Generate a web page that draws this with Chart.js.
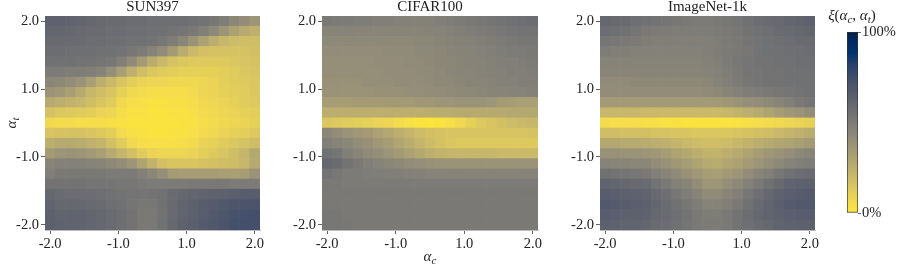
<!DOCTYPE html>
<html>
<head>
<meta charset="utf-8">
<script src="https://cdn.jsdelivr.net/npm/chart.js@4.4.0/dist/chart.umd.min.js"></script>
<style>
  html, body { margin: 0; padding: 0; background: #fff; }
  #wrap { position: relative; width: 897px; height: 266px; }
  #wrap canvas { position: absolute; left: 0; top: 0; }
</style>
</head>
<body>
<div id="wrap">
  <canvas id="c0" width="897" height="266"></canvas>
  <canvas id="c1" width="897" height="266"></canvas>
  <canvas id="c2" width="897" height="266"></canvas>
  <canvas id="cbar" width="897" height="266"></canvas>
</div>
<script>
// cell centres, same for alpha_c (columns) and alpha_t (rows)
const alphaValues = [-2.0, -1.8, -1.6, -1.4, -1.2, -1.0, -0.8, -0.6, -0.4, -0.2, 0.0,
                     0.2, 0.4, 0.6, 0.8, 1.0, 1.2, 1.4, 1.6, 1.8, 2.0];
const tickValues = [-2, -2 / 3, 2 / 3, 2];
const tickLabels = ['-2.0', '-1.0', '1.0', '2.0'];
const colorbarTicks = [0, 100];
const colorbarLabels = ['0%', '100%'];
const panelTitles = ['SUN397', 'CIFAR100', 'ImageNet-1k'];

// xi in %, rows from alpha_t = 2.0 (top) down to -2.0, columns alpha_c = -2.0 .. 2.0
const sun397 = [
  [63,63,62,61,60,59,58,58,57,57,56,56,56,56,55,54,52,49,44,41,37],
  [61,61,60,59,58,58,57,57,56,56,55,55,54,53,51,48,43,37,31,27,24],
  [59,59,58,58,57,57,56,56,55,55,54,52,49,44,38,31,25,21,19,18,18],
  [57,57,56,56,56,55,55,54,52,50,46,41,34,26,20,17,16,16,16,16,17],
  [55,55,55,54,54,53,52,48,42,34,26,20,16,14,13,13,13,13,14,15,16],
  [50,50,49,49,48,46,40,32,24,18,14,12,11,10,10,10,10,11,12,14,15],
  [44,43,41,38,32,25,20,15,11,9,8,8,7,7,7,8,9,11,12,13,14],
  [38,36,32,27,21,18,15,10,7,6,5,5,5,5,6,8,9,10,11,12,14],
  [27,25,23,21,18,15,12,7,5,4,3,3,4,4,5,7,8,9,10,12,13],
  [16,14,13,12,11,9,8,5,3,3,2,2,3,3,4,6,7,8,9,10,11],
  [7,6,6,5,5,5,4,3,2,2,2,2,2,3,3,5,6,7,8,9,10],
  [15,16,16,16,15,13,11,6,4,3,2,2,3,3,4,6,7,9,10,11,13],
  [25,27,27,26,24,22,17,12,7,5,4,4,4,5,6,9,10,12,14,16,18],
  [34,37,38,37,35,32,27,22,17,12,9,8,8,8,9,11,13,15,18,22,28],
  [45,47,47,47,46,45,43,41,37,30,23,17,15,15,15,16,17,18,19,21,27],
  [48,51,51,51,51,51,50,50,50,48,44,40,34,33,33,33,33,32,32,33,38],
  [54,54,54,54,53,53,53,52,52,51,50,50,50,50,51,51,51,51,50,50,50],
  [60,58,57,57,57,56,55,54,53,53,54,55,58,60,61,62,63,64,65,66,66],
  [62,60,60,60,59,58,56,55,53,52,52,55,59,62,64,66,67,69,70,71,71],
  [64,62,62,62,61,60,58,56,54,51,51,54,59,62,64,66,68,70,72,73,74],
  [64,63,62,62,61,60,58,56,54,51,51,55,60,63,65,67,69,71,73,74,74]
];

const cifar100 = [
  [51,50,50,49,49,48,48,47,47,47,47,48,49,50,51,52,53,54,55,56,57],
  [46,46,46,45,45,45,45,45,45,45,46,46,47,48,49,50,51,52,53,54,54],
  [43,43,43,43,43,43,43,43,43,44,44,45,46,47,47,48,49,50,51,52,52],
  [41,41,41,41,41,41,42,42,42,43,43,44,45,46,46,47,48,49,50,50,51],
  [40,40,40,40,40,41,41,41,42,42,43,44,44,45,46,46,47,48,48,49,50],
  [40,40,40,40,40,40,41,41,41,42,42,43,44,45,45,46,47,47,48,48,49],
  [39,39,39,39,40,40,40,41,41,41,42,43,43,44,45,45,46,47,47,48,48],
  [38,38,38,38,38,39,39,39,40,40,41,41,42,43,43,44,45,45,46,46,47],
  [33,33,33,34,34,34,35,35,35,36,36,37,37,38,38,38,37,34,33,32,32],
  [25,25,25,25,25,25,25,25,25,25,26,26,26,27,27,27,27,27,28,28,28],
  [14,13,12,11,10,9,8,6,4,2,1,2,4,7,10,13,15,17,19,20,21],
  [44,41,38,36,34,31,28,25,22,19,17,16,15,15,15,15,15,15,15,15,16],
  [48,46,44,41,39,36,33,29,26,22,19,16,14,13,13,13,13,13,13,13,13],
  [55,53,48,45,42,40,37,34,31,28,25,23,22,21,21,21,21,20,20,20,20],
  [60,58,54,51,48,46,44,43,41,40,39,38,38,38,38,38,38,38,38,38,38],
  [54,52,50,50,49,49,48,48,47,47,46,46,46,46,46,46,46,46,46,46,46],
  [51,51,50,50,50,50,50,50,50,50,50,50,50,50,50,50,50,50,50,50,50],
  [51,51,51,51,51,51,51,51,51,51,51,51,51,51,51,51,51,51,51,51,51],
  [51,51,51,51,51,51,51,51,51,51,51,51,51,51,51,51,51,51,51,51,51],
  [52,52,51,51,51,51,51,51,51,51,51,51,51,51,51,51,51,51,51,51,51],
  [52,52,52,51,51,51,51,51,51,51,51,51,51,51,51,51,51,51,51,51,51]
];

const imagenet1k = [
  [60,59,58,56,55,54,53,52,51,50,50,51,52,53,55,57,58,59,61,62,63],
  [57,56,55,53,51,50,50,49,49,49,49,50,51,52,54,55,56,58,59,60,61],
  [53,52,51,50,49,48,48,48,48,48,48,49,50,51,53,54,55,56,57,58,58],
  [49,48,48,47,47,47,47,47,47,47,48,49,50,51,52,54,55,55,56,56,57],
  [46,46,46,46,46,46,46,46,46,46,47,48,50,52,53,54,54,55,55,56,56],
  [45,45,45,45,45,45,45,45,45,45,46,47,49,51,53,53,54,54,55,55,55],
  [42,42,42,43,43,43,43,43,43,43,44,46,48,50,52,53,54,54,55,55,55],
  [41,41,41,41,41,41,41,41,41,41,42,43,45,47,49,50,51,52,53,54,55],
  [35,35,35,35,35,35,35,35,35,35,35,35,36,38,40,41,43,45,48,51,53],
  [21,21,21,21,20,20,20,20,20,20,20,20,21,23,25,27,30,33,36,38,41],
  [6,5,5,5,4,4,3,3,2,2,2,2,2,3,4,5,6,7,8,9,10],
  [18,18,17,17,17,16,16,15,15,14,14,14,14,15,16,17,18,20,22,24,26],
  [28,28,27,27,26,25,24,22,20,19,18,18,19,21,23,25,27,29,30,32,34],
  [39,39,38,38,37,36,33,30,28,25,23,23,25,27,30,33,36,38,40,43,45],
  [46,45,45,44,44,41,39,36,33,30,27,26,29,31,34,37,40,43,46,48,49],
  [55,54,53,52,51,48,45,42,39,36,33,32,35,37,41,45,48,52,55,57,58],
  [62,61,60,59,58,54,51,47,45,41,37,37,40,43,47,51,55,59,62,63,64],
  [66,65,64,63,62,59,56,52,49,46,42,42,45,48,52,56,60,63,65,66,67],
  [68,67,66,65,64,61,58,55,52,49,46,46,48,51,55,59,62,65,67,68,68],
  [66,65,64,64,63,60,58,56,54,51,49,49,51,54,57,60,62,64,65,66,66],
  [64,63,62,62,61,58,57,55,53,51,50,50,51,54,56,58,60,62,63,64,64]
];

// reversed cividis: 0% -> yellow, 100% -> dark blue
const cividisStops = [
  [0.000, [0, 32, 76]], [0.059, [0, 42, 102]], [0.118, [0, 52, 110]],
  [0.176, [39, 63, 108]], [0.235, [60, 74, 107]], [0.294, [76, 85, 107]],
  [0.353, [91, 95, 109]], [0.412, [104, 106, 112]], [0.471, [117, 117, 117]],
  [0.529, [131, 129, 120]], [0.588, [146, 140, 120]], [0.647, [161, 152, 118]],
  [0.706, [176, 165, 114]], [0.765, [192, 177, 109]], [0.824, [209, 191, 102]],
  [0.882, [225, 204, 92]], [0.941, [243, 219, 79]], [1.000, [253, 231, 55]]
];

function cividisR(pct) {
  const t = 1 - Math.max(0, Math.min(100, pct)) / 100;
  for (let k = 1; k < cividisStops.length; k++) {
    const [t1, c1] = cividisStops[k];
    const [t0, c0] = cividisStops[k - 1];
    if (t <= t1) {
      const f = (t - t0) / (t1 - t0);
      const c = c0.map((v, i) => Math.round(v + f * (c1[i] - v)));
      return `rgb(${c[0]},${c[1]},${c[2]})`;
    }
  }
  return 'rgb(253,231,55)';
}

Chart.defaults.font.family = "'Liberation Serif', 'Times New Roman', serif";
Chart.defaults.color = '#222';

// math text with subscripts, e.g. alpha_t
function drawMath(ctx, parts, x, y, rot) {
  const size = 15;
  const fonts = {
    i: `italic ${size}px 'Liberation Serif'`,
    r: `${size}px 'Liberation Serif'`,
    s: `italic ${Math.round(size * 0.72)}px 'Liberation Serif'`
  };
  ctx.save();
  ctx.translate(x, y);
  if (rot) ctx.rotate(rot);
  ctx.fillStyle = '#222';
  ctx.textBaseline = 'alphabetic';
  let total = 0;
  parts.forEach(p => { ctx.font = fonts[p[1]]; total += ctx.measureText(p[0]).width; });
  let cx = -total / 2;
  parts.forEach(p => {
    ctx.font = fonts[p[1]];
    ctx.fillText(p[0], cx, p[1] === 's' ? 8 : 5);
    cx += ctx.measureText(p[0]).width;
  });
  ctx.restore();
}

function mathPlugin(labels) {
  return {
    id: 'mathLabels',
    afterDraw(chart) {
      labels.forEach(l => drawMath(chart.ctx, l.parts, l.x, l.y, l.rot));
    }
  };
}

function cellData(grid) {
  const pts = [];
  const colors = [];
  grid.forEach((row, i) => {
    const at = alphaValues[alphaValues.length - 1 - i];
    row.forEach((v, j) => {
      pts.push({ x: alphaValues[j], y: [at - 0.1, at + 0.1] });
      colors.push(cividisR(v));
    });
  });
  return { pts, colors };
}

function makePanel(canvasId, title, grid, left, right, labels) {
  const cells = cellData(grid);
  const fixedTicks = s => { s.ticks = tickValues.map(v => ({ value: v })); };
  const tickFont = { size: 14.5 };
  return new Chart(document.getElementById(canvasId), {
    type: 'bar',
    data: {
      datasets: [{
        data: cells.pts,
        backgroundColor: cells.colors,
        borderWidth: 0,
        categoryPercentage: 1,
        barPercentage: 1
      }]
    },
    options: {
      responsive: false,
      animation: false,
      events: [],
      layout: { padding: { left: left - 41, right: 897 - right, top: 0, bottom: 266 - 230 - 30 } },
      plugins: {
        legend: { display: false },
        tooltip: { enabled: false },
        title: {
          display: true, text: title, fullSize: false, color: '#222',
          font: { size: 15, weight: 'normal', lineHeight: 1 },
          padding: { top: 0, bottom: 1 }
        }
      },
      scales: {
        x: {
          type: 'linear', min: -2.1, max: 2.1, offset: false,
          afterBuildTicks: fixedTicks,
          afterFit: s => { s.height = 30; },
          ticks: { callback: (v, i) => tickLabels[i], maxRotation: 0, autoSkip: false, padding: 1, font: tickFont, color: '#222' },
          grid: { drawOnChartArea: false, offset: false, tickLength: 4, color: '#666' },
          border: { color: '#bbb' }
        },
        y: {
          type: 'linear', min: -2.1, max: 2.1, offset: false,
          afterBuildTicks: fixedTicks,
          afterFit: s => { s.width = 41; },
          ticks: { callback: (v, i) => tickLabels[i], autoSkip: false, padding: 2, font: tickFont, color: '#222' },
          grid: { drawOnChartArea: false, offset: false, tickLength: 4, color: '#666' },
          border: { color: '#bbb' }
        }
      }
    },
    plugins: [mathPlugin(labels)]
  });
}

makePanel('c0', panelTitles[0], sun397, 45, 260,
  [{ parts: [['α', 'i'], ['t', 's']], x: 11, y: 123, rot: -Math.PI / 2 }]);
makePanel('c1', panelTitles[1], cifar100, 322, 538,
  [{ parts: [['α', 'i'], ['c', 's']], x: 430, y: 256 }]);
makePanel('c2', panelTitles[2], imagenet1k, 600, 815, []);

// colour bar
new Chart(document.getElementById('cbar'), {
  type: 'bar',
  data: {
    labels: [''],
    datasets: [{
      data: [[colorbarTicks[0], colorbarTicks[1]]],
      backgroundColor: c => {
        const a = c.chart.chartArea;
        if (!a) return null;
        const g = c.chart.ctx.createLinearGradient(0, a.bottom, 0, a.top);
        cividisStops.forEach(([t, rgb]) => g.addColorStop(1 - t, `rgb(${rgb[0]},${rgb[1]},${rgb[2]})`));
        return g;
      },
      borderColor: '#333',
      borderWidth: 1,
      borderSkipped: false,
      categoryPercentage: 1,
      barPercentage: 1
    }]
  },
  options: {
    responsive: false,
    animation: false,
    events: [],
    layout: { padding: { left: 847, right: 1, top: 32, bottom: 53 } },
    plugins: { legend: { display: false }, tooltip: { enabled: false } },
    scales: {
      x: { display: false },
      y: {
        position: 'right', min: 0, max: 100,
        afterBuildTicks: s => { s.ticks = colorbarTicks.map(v => ({ value: v })); },
        afterFit: s => { s.width = 38; },
        ticks: { callback: (v, i) => colorbarLabels[i], padding: 1, font: { size: 14.5 }, color: '#222' },
        grid: { drawOnChartArea: false, tickLength: 3, color: '#666' },
        border: { display: false }
      }
    }
  },
  plugins: [mathPlugin([{
    parts: [['ξ', 'i'], ['(', 'r'], ['α', 'i'], ['c', 's'], [', ', 'r'], ['α', 'i'], ['t', 's'], [')', 'r']],
    x: 852, y: 15
  }])]
});
</script>
</body>
</html>
